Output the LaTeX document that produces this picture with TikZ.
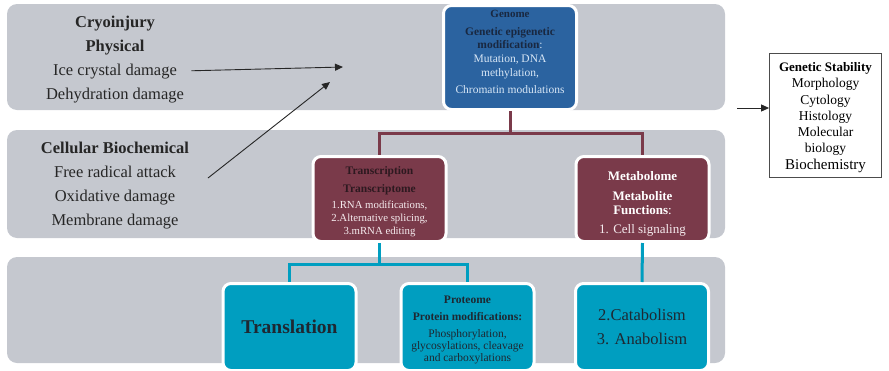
\documentclass[tikz,border=0pt]{standalone}
\usepackage{fontspec}
\setmainfont{Liberation Serif}
\usepackage{xcolor}
\usepackage{tikz}
\usetikzlibrary{arrows.meta, positioning}

\definecolor{bandgray}{RGB}{197,200,207}
\definecolor{genomeblue}{RGB}{43,99,160}
\definecolor{transmaroon}{RGB}{122,58,74}
\definecolor{protteal}{RGB}{0,158,192}
\definecolor{darktxt}{RGB}{30,40,50}
\definecolor{navytxt}{RGB}{25,40,65}
\definecolor{lightblue}{RGB}{215,230,245}
\definecolor{winetxt}{RGB}{45,25,32}
\definecolor{pinktxt}{RGB}{245,235,238}

\tikzset{
  box/.style={rounded corners=8pt, draw=white, line width=3pt, minimum width=133pt, align=center, inner sep=1pt},
  lefttxt/.style={anchor=base, font=\fontsize{16.5}{20}\selectfont, text=black!85},
  flecha/.style={-{Triangle[length=8pt,width=7pt]}, line width=0.9pt, black!85},
  ramaroja/.style={transmaroon, line width=3pt},
  ramaazul/.style={protteal, line width=3pt},
}

\begin{document}
\begin{tikzpicture}[x=1pt,y=-1pt]
        \useasboundingbox (0,0) rectangle (889,370);
        \clip (0,0) rectangle (889,370);
        % Bandas grises de fondo
        \foreach \ytop/\ybot in {4/110,130/238,257/363} {
            \fill[bandgray, rounded corners=10pt] (7,\ytop) rectangle (725,\ybot);
        }
        % Texto de la izquierda
        \node[lefttxt, font=\fontsize{16.5}{20}\selectfont\bfseries] (cryo) at (115,27) {Cryoinjury};
        \node[lefttxt, font=\fontsize{16.5}{20}\selectfont\bfseries] (physical) at (115,51) {Physical};
        \node[lefttxt] (ice) at (115,75) {Ice crystal damage};
        \node[lefttxt] (dehyd) at (115,99) {Dehydration damage};
        \node[lefttxt, font=\fontsize{16.5}{20}\selectfont\bfseries] (cellular) at (115,153) {Cellular Biochemical};
        \node[lefttxt] (radical) at (115,177) {Free radical attack};
        \node[lefttxt] (oxid) at (115,201) {Oxidative damage};
        \node[lefttxt] (membrane) at (115,225) {Membrane damage};
        % Cajas de colores
        \node[box, fill=genomeblue, minimum height=104pt] (genome) at (510,57.5) {};
        \node[text=lightblue, align=center, font=\fontsize{11.5}{13.5}\selectfont] (genomeTxt) at (510,51.5) {{\color{navytxt}\bfseries\fontsize{11}{13.5}\selectfont Genome}\\[4.5pt]{\color{navytxt}\bfseries Genetic epigenetic}\\{\color{navytxt}\bfseries modification}:\\[0.5pt]Mutation, DNA\\methylation,\\[3.5pt]Chromatin modulations};
        \node[box, fill=transmaroon, minimum height=85pt, text=pinktxt, font=\fontsize{10.8}{13}\selectfont] (transcription) at (379.5,199) {\rule{0pt}{13pt}{\color{winetxt}\bfseries\fontsize{11.5}{13.5}\selectfont Transcription}\\[5pt]{\color{winetxt}\bfseries\fontsize{11.5}{13.5}\selectfont Transcriptome}\\[3.5pt]1.RNA modifications,\\2.Alternative splicing,\\3.mRNA editing};
        \node[box, fill=transmaroon, minimum height=85pt, text=white, font=\fontsize{13}{14.5}\selectfont] (metabolome) at (642.5,199) {\rule{0pt}{19pt}\textbf{Metabolome}\\[5pt]\textbf{Metabolite}\\\textbf{Functions}:\\[4pt]{\color{pinktxt}1. Cell signaling}};
        \node[box, fill=protteal, minimum height=87pt, text=darktxt, font=\fontsize{19.5}{22}\selectfont\bfseries] (translation) at (289.5,327) {Translation};
        \node[box, fill=protteal, minimum height=87pt, text=darktxt, font=\fontsize{11.5}{12}\selectfont] (proteome) at (467.5,327) {\rule{0pt}{14pt}\textbf{Proteome}\\[5pt]\textbf{Protein modifications:}\\[5pt]Phosphorylation,\\glycosylations, cleavage\\and carboxylations};
        \node[box, fill=protteal, minimum height=87pt, text=darktxt, font=\fontsize{16.5}{24}\selectfont] (catabolism) at (642,327) {2.Catabolism\\3. Anabolism};
        % Caja de estabilidad genetica
        \node[draw=black!70, fill=white, line width=0.8pt, minimum width=112pt, minimum height=124pt, align=center, font=\fontsize{13.5}{16.3}\selectfont] (stability) at (825.5,115.5) {\rule{0pt}{13pt}{\bfseries\fontsize{13}{16.3}\selectfont Genetic Stability}\\Morphology\\Cytology\\Histology\\Molecular\\biology\\{\fontsize{15}{16.3}\selectfont Biochemistry}};
        % Ramas
        \coordinate (rama1) at (510,133);
        \draw[ramaroja] (genome.south) -- (rama1) -| (transcription.north);
        \draw[ramaroja] (rama1) -| (metabolome.north);
        \coordinate (rama2) at (379.5,264);
        \draw[ramaazul] (transcription.south) -- (rama2) -| (translation.north);
        \draw[ramaazul] (rama2) -| (proteome.north);
        \draw[ramaazul] (metabolome.south) -- (catabolism.north);
        % Flechas
        \coordinate (hieloMeta) at (343,67);
        \draw[flecha, shorten <=11pt] (ice.east) -- (hieloMeta);
        \coordinate (bioInicio) at (208,178);
        \coordinate (bioMeta) at (330,82);
        \draw[flecha] (bioInicio) -- (bioMeta);
        \coordinate (estInicio) at (737,108);
        \draw[flecha] (estInicio) -- (estInicio -| stability.west);
    \end{tikzpicture}
\end{document}
